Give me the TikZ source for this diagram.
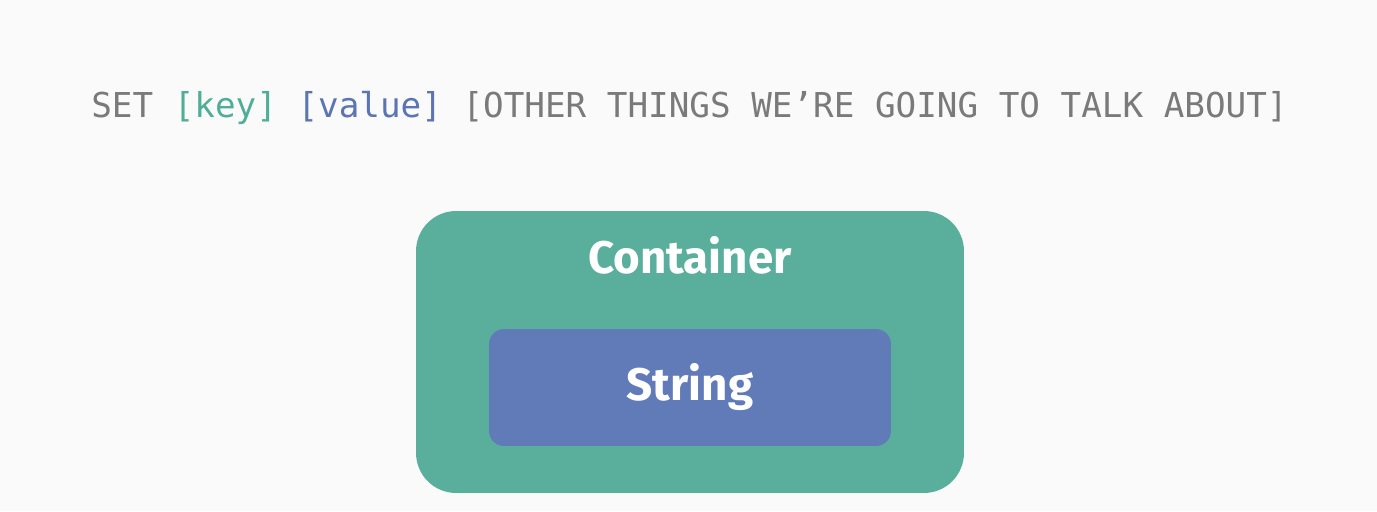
\documentclass[tikz,border=0pt]{standalone}
\usepackage{fontspec}
\setmainfont{Fira Sans}
\setmonofont{DejaVu Sans Mono}
\usetikzlibrary{positioning}

\definecolor{bgwhite}{HTML}{FAFAFA}
\definecolor{cmdgray}{HTML}{7A7A7A}
\definecolor{keyteal}{HTML}{4FAE98}
\definecolor{valueblue}{HTML}{5B74B4}
\definecolor{boxteal}{HTML}{5AAF9C}
\definecolor{boxblue}{HTML}{617BB8}

\begin{document}
\begin{tikzpicture}[x=0.02cm,y=-0.02cm]
  \tikzset{
    outerbox/.style={fill=boxteal,rounded corners=0.8cm,minimum width=10.96cm,minimum height=5.64cm},
    innerbox/.style={fill=boxblue,rounded corners=0.3cm,minimum width=8.04cm,minimum height=2.34cm,
      text=white,font=\fontsize{26}{30}\selectfont\bfseries},
    boxlabel/.style={text=white,font=\fontsize{26}{30}\selectfont\bfseries}
  }
  \fill[bgwhite] (0,0) rectangle (1377,511);
  \useasboundingbox (0,0) rectangle (1377,511);

  \node[anchor=base,text=cmdgray,font=\ttfamily\fontsize{19.5}{24}\selectfont] (cmd) at (689.5,117)
    {SET \textcolor{keyteal}{[key]} \textcolor{valueblue}{[value]} [OTHER THINGS WE’RE GOING TO TALK ABOUT]};

  \node[outerbox] (container) at (690,352) {};
  \node[boxlabel,anchor=base] (containerlabel) at (690,273) {Container};
  \node[innerbox] (string) at (690,387.5) {String};
\end{tikzpicture}
\end{document}
